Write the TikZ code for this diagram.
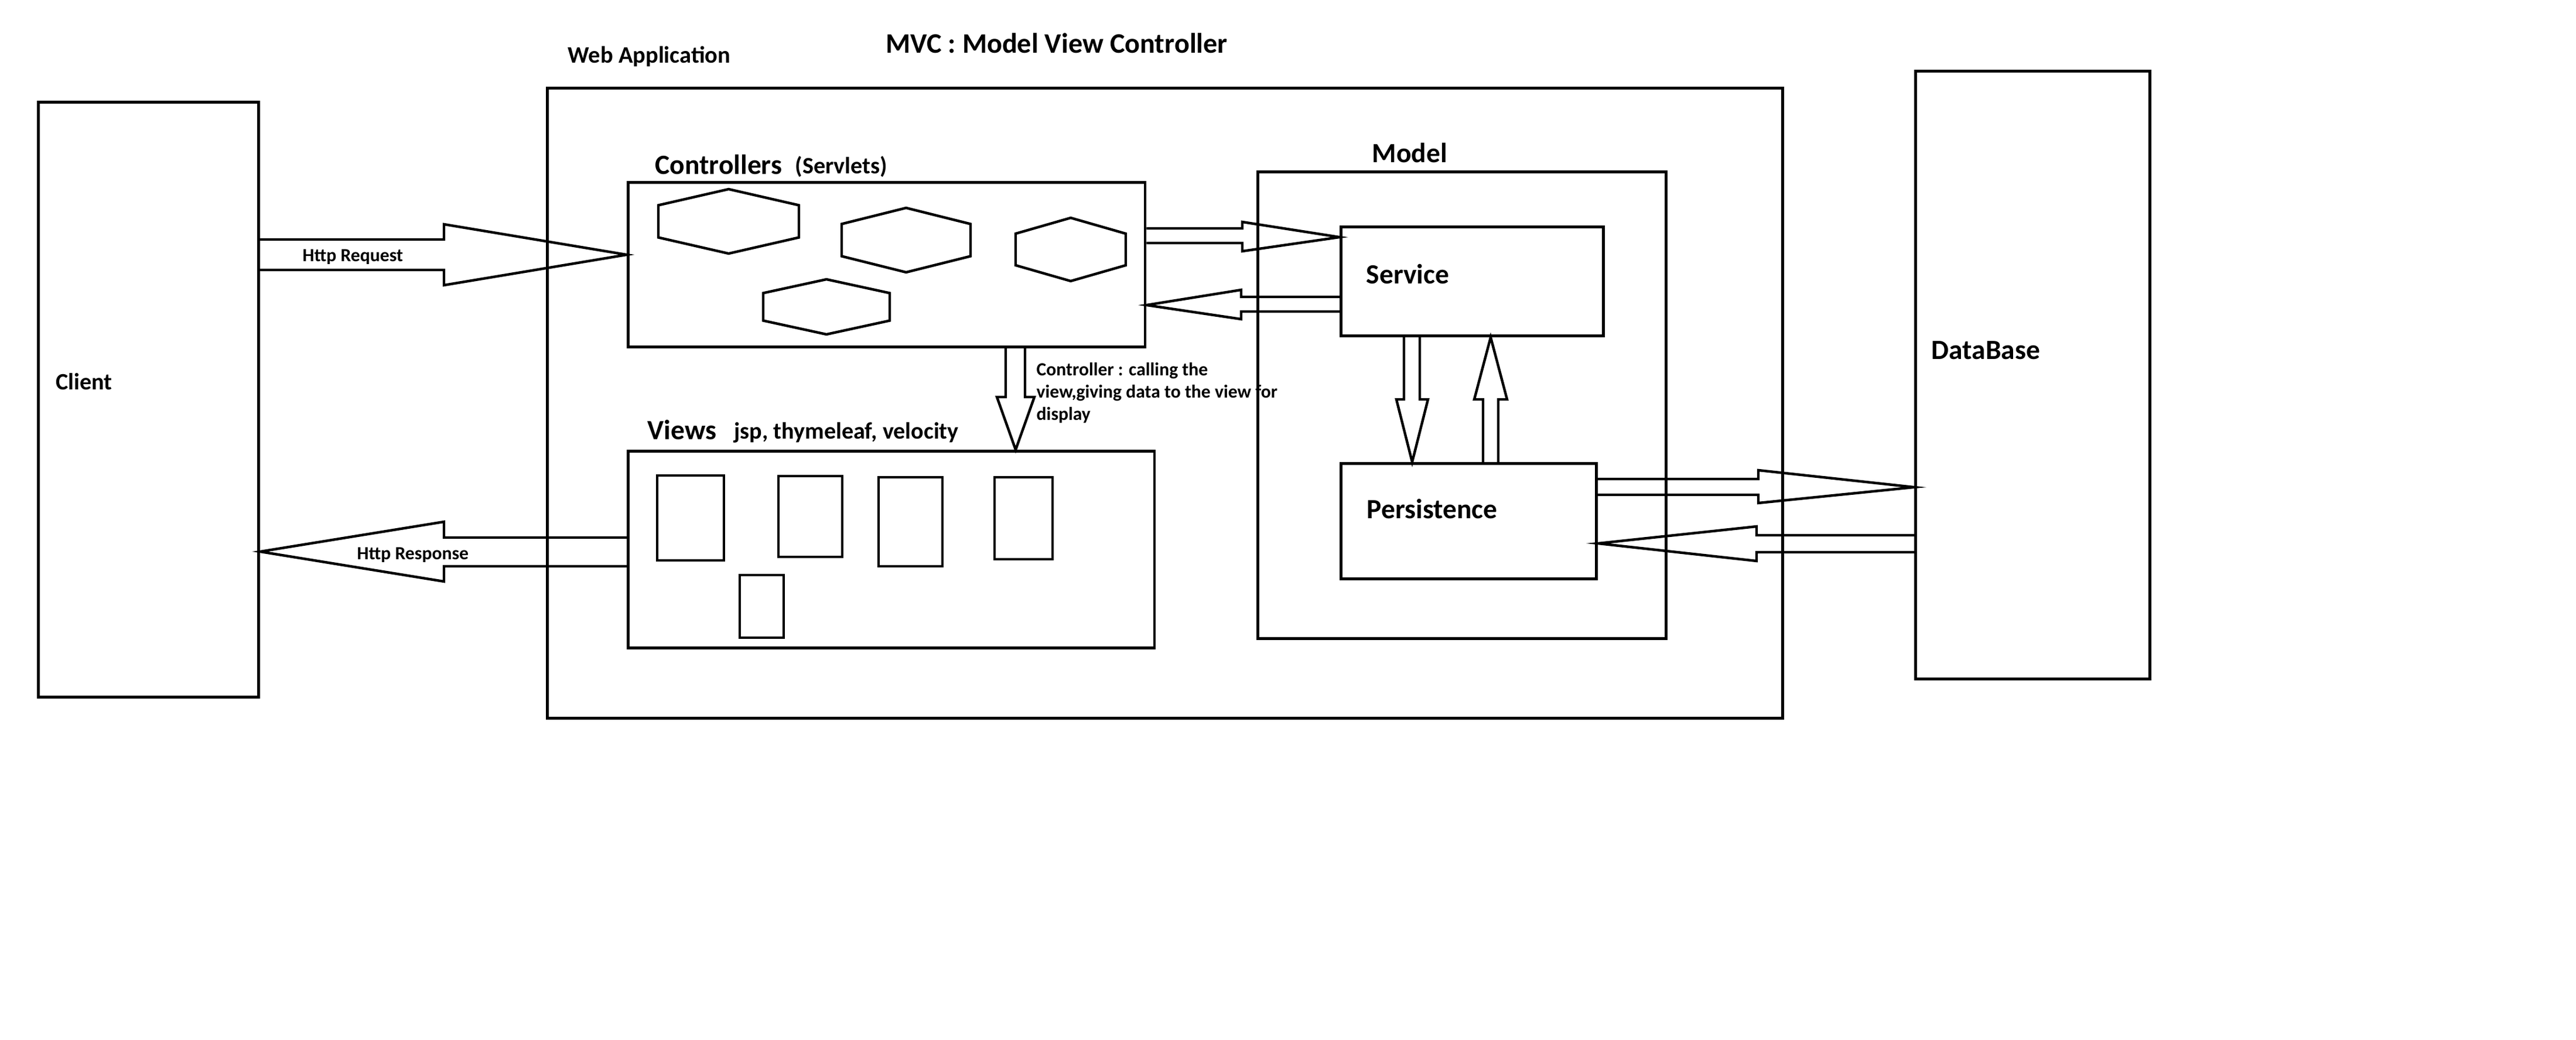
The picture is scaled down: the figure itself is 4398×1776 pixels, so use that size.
\documentclass[tikz,border=0pt]{standalone}
\usepackage{fontspec}
\setmainfont{Carlito}
\usetikzlibrary{calc}

\begin{document}
\begin{tikzpicture}[
  x=0.01cm, y=-0.01cm,
  every node/.style={font=\bfseries},
  box/.style={draw, line width=1.4pt, anchor=north west, inner sep=0pt},
  fat/.style={draw, line width=1.25pt, line join=miter},
  part/.style={draw, line width=1.25pt},
  title/.style={anchor=base west, inner sep=0pt, font=\fontsize{13.7pt}{16pt}\selectfont\bfseries},
  sub/.style={anchor=base west, inner sep=0pt, font=\fontsize{11.5pt}{13.5pt}\selectfont\bfseries},
  lbl/.style={anchor=base west, inner sep=0pt, font=\fontsize{13.5pt}{16pt}\selectfont\bfseries},
  mid/.style={anchor=base west, inner sep=0pt, font=\fontsize{11.4pt}{13.5pt}\selectfont\bfseries},
  note/.style={anchor=base west, inner sep=0pt, font=\fontsize{9pt}{10.8pt}\selectfont\bfseries}
]
\fill[white] (0,0) rectangle (4398,1776);
\useasboundingbox (0,0) rectangle (4398,1776);

% boxes
\node[box, minimum width=3.76cm, minimum height=10.15cm] (client) at (63,172) {};
\node[box, minimum width=21.08cm, minimum height=10.75cm] (webapp) at (932,148) {};
\node[box, minimum width=8.82cm, minimum height=2.81cm] (ctrl) at (1070,309) {};
\node[box, minimum width=8.98cm, minimum height=3.36cm] (views) at (1070,768) {};
\node[box, minimum width=6.97cm, minimum height=7.97cm] (model) at (2145,291) {};
\node[box, minimum width=4.48cm, minimum height=1.86cm] (service) at (2287,385) {};
\node[box, minimum width=4.36cm, minimum height=1.97cm] (persist) at (2287,789) {};
\node[box, minimum width=4.00cm, minimum height=10.37cm] (db) at (3268,119) {};

% labels
\node[title] (mvc) at (1512,91) {MVC : Model View Controller};
\node[sub] (webapplbl) at (969,108) {Web Application};
\node[lbl] (ctrllbl) at (1118,298) {Controllers};
\node[mid] (servlets) at (1357,297) {(Servlets)};
\node[lbl] (viewslbl) at (1105,751) {Views};
\node[mid] (tech) at (1253,750) {jsp, thymeleaf, velocity};
\node[lbl] (modellbl) at (2342,278) {Model};
\node[lbl] (servicelbl) at (2332,485) {Service};
\node[lbl] (persistlbl) at (2333,885) {Persistence};
\node[lbl] (dblbl) at (3297,614) {DataBase};
\node[mid] (clientlbl) at (95,666) {Client};
\node[note] (req) at (516,447) {Http Request};
\node[note] (resp) at (609,955) {Http Response};
\node[note] (call1) at (1769,642) {Controller : calling the};
\node[note] (call2) at (1769,680) {view,giving data to the view for};
\node[note] (call3) at (1769,718) {display};

% servlets
\foreach \cx/\cy/\w/\h in {1244/378/120/55, 1547/410/110/55, 1828/426/94/54, 1411/524/108/47}
  \draw[part] (\cx,\cy-\h) -- (\cx+\w,\cy-\h/2) -- (\cx+\w,\cy+\h/2) -- (\cx,\cy+\h)
    -- (\cx-\w,\cy+\h/2) -- (\cx-\w,\cy-\h/2) -- cycle;

% view pages
\foreach \xa/\ya/\xb/\yb in {1122/812/1236/957, 1329/813/1438/951, 1500/815/1609/967,
    1698/815/1797/955, 1263/982/1338/1089}
  \draw[part] (\xa,\ya) rectangle (\xb,\yb);

% block arrows
\draw[fat] (client.east |- 0,409) -- (758,409) -- (758,383) -- (ctrl.west |- 0,435)
  -- (758,487) -- (758,461) -- (client.east |- 0,461);
\draw[fat] (views.west |- 0,918) -- (758,918) -- (758,891) -- (client.east |- 0,942)
  -- (758,993) -- (758,967) -- (views.west |- 0,967);
\draw[fat] (ctrl.south -| 1717,0) -- (1717,678) -- (1702,678) -- (views.north -| 1734,0)
  -- (1766,678) -- (1750,678) -- (ctrl.south -| 1750,0);
\draw[fat] (ctrl.east |- 0,390) -- (2121,390) -- (2121,379) -- (service.west |- 0,405)
  -- (2121,429) -- (2121,415) -- (ctrl.east |- 0,415);
\draw[fat] (service.west |- 0,507) -- (2119,507) -- (2119,495) -- (ctrl.east |- 0,521)
  -- (2119,545) -- (2119,532) -- (service.west |- 0,532);
\draw[fat] (service.south -| 2397,0) -- (2397,682) -- (2384,682) -- (persist.north -| 2411,0)
  -- (2438,682) -- (2424,682) -- (service.south -| 2424,0);
\draw[fat] (persist.north -| 2532,0) -- (2532,682) -- (2517,682) -- (service.south -| 2545,0)
  -- (2573,682) -- (2558,682) -- (persist.north -| 2558,0);
\draw[fat] (persist.east |- 0,818) -- (3002,818) -- (3002,803) -- (db.west |- 0,832)
  -- (3002,859) -- (3002,845) -- (persist.east |- 0,845);
\draw[fat] (db.west |- 0,914) -- (2999,914) -- (2999,899) -- (persist.east |- 0,928)
  -- (2999,958) -- (2999,943) -- (db.west |- 0,943);
\end{tikzpicture}
\end{document}
